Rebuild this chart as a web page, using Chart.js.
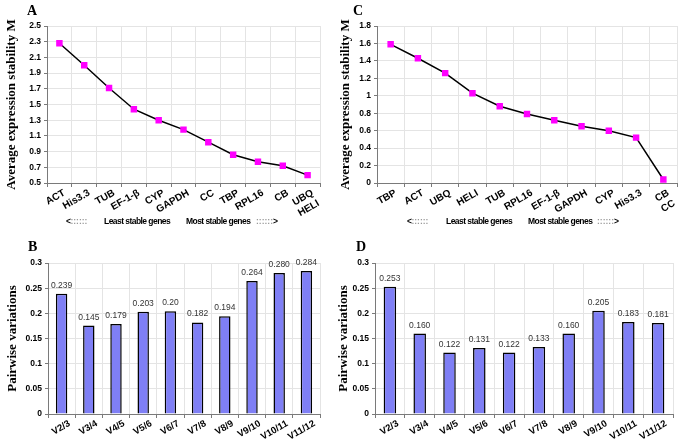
<!DOCTYPE html>
<html>
<head>
<meta charset="utf-8">
<script src="https://cdn.jsdelivr.net/npm/chart.js@4.4.1/dist/chart.umd.min.js"></script>
<style>
body { margin: 0; background: #fff; }
#wrap { position: relative; width: 683px; height: 447px; overflow: hidden; }
canvas { position: absolute; }
.tag { position: absolute; font: bold 14px "Liberation Serif", serif; color: #000; }
.note { position: absolute; top: 216px; font: bold 8.5px "Liberation Sans", Arial, sans-serif; letter-spacing: -0.55px; white-space: pre; color: #000; }
.dots { color: #999; letter-spacing: 0; }
</style>
</head>
<body>
<div id="wrap">
	<canvas id="chartA" width="340" height="230" style="left:0;top:0"></canvas>
	<canvas id="chartC" width="345" height="230" style="left:338px;top:0"></canvas>
	<canvas id="chartB" width="340" height="217" style="left:0;top:230px"></canvas>
	<canvas id="chartD" width="347" height="217" style="left:336px;top:230px"></canvas>
	<div class="tag" style="left:27px;top:3px">A</div>
	<div class="tag" style="left:353px;top:3px">C</div>
	<div class="tag" style="left:28px;top:239px">B</div>
	<div class="tag" style="left:356px;top:239px">D</div>
	<div class="note" style="left:66px">&lt;<span class="dots">::::::</span></div>
	<div class="note" style="left:104px">Least stable genes</div>
	<div class="note" style="left:186px">Most stable genes</div>
	<div class="note" style="left:256px"><span class="dots">::::::</span>&gt;</div>
	<div class="note" style="left:407px">&lt;<span class="dots">::::::</span></div>
	<div class="note" style="left:446px">Least stable genes</div>
	<div class="note" style="left:528px">Most stable genes</div>
	<div class="note" style="left:597px"><span class="dots">::::::</span>&gt;</div>
</div>
<script>
// geNorm stability, panel A
const genesA = ["ACT", "His3.3", "TUB", "EF-1-β", "CYP", "GAPDH", "CC", "TBP", "RPL16", "CB", ["UBQ", "HELI"]];
const stabilityA = [2.28, 2.0, 1.71, 1.44, 1.30, 1.18, 1.02, 0.86, 0.77, 0.72, 0.60];
const ticksA = [0.5, 2.5, 0.2];

// geNorm stability, panel C
const genesC = ["TBP", "ACT", "UBQ", "HELI", "TUB", "RPL16", "EF-1-β", "GAPDH", "CYP", "His3.3", ["CB", "CC"]];
const stabilityC = [1.59, 1.43, 1.26, 1.03, 0.88, 0.79, 0.72, 0.65, 0.60, 0.52, 0.04];
const ticksC = [0, 1.8, 0.2];

// pairwise variations, panels B and D
const pairs = ["V2/3", "V3/4", "V4/5", "V5/6", "V6/7", "V7/8", "V8/9", "V9/10", "V10/11", "V11/12"];
const variationB = [0.239, 0.176, 0.179, 0.203, 0.204, 0.182, 0.194, 0.264, 0.280, 0.284];
const valueTextB = ["0.239", "0.145", "0.179", "0.203", "0.20", "0.182", "0.194", "0.264", "0.280", "0.284"];
const variationD = [0.253, 0.160, 0.122, 0.131, 0.122, 0.133, 0.160, 0.205, 0.183, 0.181];
const valueTextD = ["0.253", "0.160", "0.122", "0.131", "0.122", "0.133", "0.160", "0.205", "0.183", "0.181"];
const ticksBD = [0, 0.3, 0.05];

const gridColor = "#e4e4e4";
const axisColor = "#7a7a7a";
const yTickFont = { family: "Liberation Sans", size: 8.5, weight: "bold" };
const titleFont = { family: "Liberation Serif", size: 13, weight: "bold" };

const barLabels = {
	id: "barLabels",
	afterDatasetsDraw(chart, args, opts) {
		const ctx = chart.ctx;
		const meta = chart.getDatasetMeta(0);
		ctx.save();
		ctx.font = "8.5px 'Liberation Sans'";
		ctx.fillStyle = "#333";
		ctx.textAlign = "center";
		ctx.textBaseline = "bottom";
		meta.data.forEach((bar, i) => {
			ctx.fillText(opts.text[i], bar.x, bar.y - 4);
		});
		ctx.restore();
	},
};

function scales(range, yTitle, yWidth, xHeight, digits, xSize, xShift, titlePad) {
	return {
		x: {
			offset: true,
			grid: { color: gridColor, offset: true, tickLength: 4, tickColor: axisColor },
			border: { color: axisColor },
			ticks: {
				font: { family: "Liberation Sans", size: xSize, weight: "bold" },
				color: "#000",
				minRotation: 30,
				maxRotation: 30,
				padding: 0,
				labelOffset: xShift,
				autoSkip: false,
			},
			afterFit: (s) => { s.height = xHeight; },
		},
		y: {
			min: range[0],
			max: range[1],
			grid: { color: gridColor, tickLength: 3, tickColor: axisColor },
			border: { color: axisColor },
			ticks: {
				stepSize: range[2],
				font: yTickFont,
				color: "#000",
				padding: 3,
				callback: (v) => String(Number(v.toFixed(digits))),
			},
			title: { display: true, text: yTitle, font: titleFont, color: "#000", padding: { top: titlePad, bottom: 0 } },
			afterFit: (s) => { s.width = yWidth; },
		},
	};
}

function lineChart(id, labels, values, range, yWidth, pad, titlePad) {
	return new Chart(document.getElementById(id), {
		type: "line",
		data: {
			labels: labels,
			datasets: [{
				data: values,
				borderColor: "#000",
				borderWidth: 1.5,
				pointStyle: "rect",
				pointRadius: 3.5,
				pointBackgroundColor: "#ff00ff",
				pointBorderColor: "#ff00ff",
				tension: 0,
			}],
		},
		options: {
			responsive: false,
			animation: false,
			layout: { padding: pad },
			plugins: { legend: false, tooltip: { enabled: false } },
			scales: scales(range, "Average expression stability M", yWidth, 47, 1, 10, 5, titlePad),
		},
	});
}

function barChart(id, labels, values, text, yWidth, pad, titlePad) {
	return new Chart(document.getElementById(id), {
		type: "bar",
		data: {
			labels: labels,
			datasets: [{
				data: values,
				backgroundColor: "#7f7ff5",
				borderColor: "#000",
				borderWidth: 1.5,
				categoryPercentage: 1,
				barPercentage: 0.42,
			}],
		},
		options: {
			responsive: false,
			animation: false,
			layout: { padding: pad },
			plugins: { legend: false, tooltip: { enabled: false }, barLabels: { text: text } },
			scales: scales(ticksBD, "Pairwise variations", yWidth, 33, 2, 9.5, 8, titlePad),
		},
		plugins: [barLabels],
	});
}

lineChart("chartA", genesA, stabilityA, ticksA, 47, { top: 26, right: 20, left: 0, bottom: 0 }, 4);
lineChart("chartC", genesC, stabilityC, ticksC, 39, { top: 26, right: 6, left: 0, bottom: 0 }, 0);
barChart("chartB", pairs, variationB, valueTextB, 48, { top: 33, right: 20, left: 0, bottom: 0 }, 5);
barChart("chartD", pairs, variationD, valueTextD, 39, { top: 33, right: 10, left: 0, bottom: 0 }, 0);
</script>
</body>
</html>
